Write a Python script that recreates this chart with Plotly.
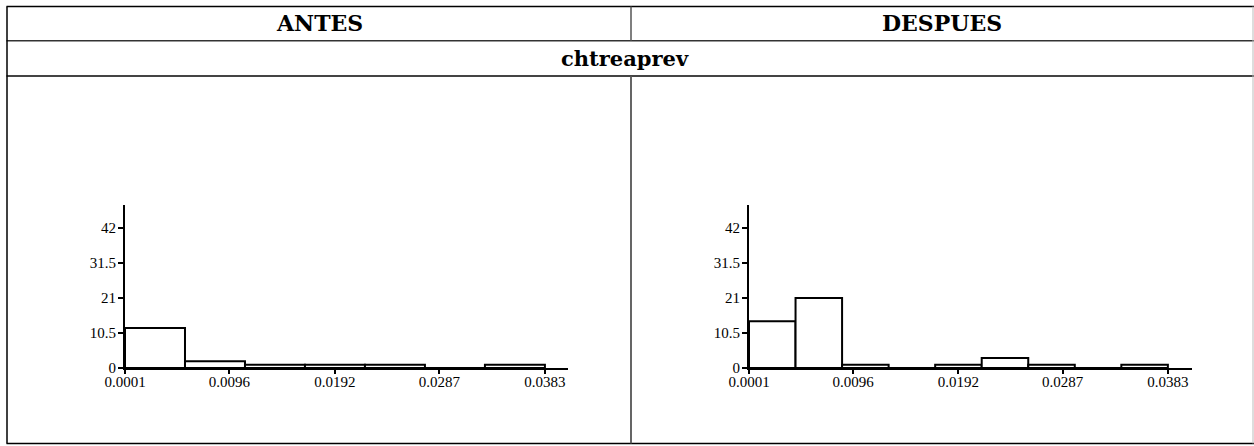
import numpy as np
import plotly.graph_objects as go

# ---- data ----
col_titles = ["ANTES", "DESPUES"]
var_name = "chtreaprev"
x_min, x_max = 0.0001, 0.0383
x_tickvals = [0.0001, 0.0096, 0.0192, 0.0287, 0.0383]
x_ticktext = ["0.0001", "0.0096", "0.0192", "0.0287", "0.0383"]
y_tickvals = [0, 10.5, 21, 31.5, 42]
y_ticktext = ["0", "10.5", "21", "31.5", "42"]
counts_antes = [12, 2, 1, 1, 1, 0, 1]
counts_despues = [14, 21, 1, 0, 1, 3, 1, 0, 1]

W, H = 1254, 446
def px(x): return x / W
def py(y): return 1 - y / H

def hist_trace(counts, xa, ya):
    n = len(counts)
    edges = np.linspace(x_min, x_max, n + 1)
    centers = (edges[:-1] + edges[1:]) / 2
    width = edges[1] - edges[0]
    return go.Bar(x=centers, y=counts, width=[width] * n,
                  marker=dict(color="white", line=dict(color="black", width=2)),
                  xaxis=xa, yaxis=ya, showlegend=False, hoverinfo="skip")

fig = go.Figure()
fig.add_trace(hist_trace(counts_antes, "x", "y"))
fig.add_trace(hist_trace(counts_despues, "x2", "y2"))

tickfont = dict(family="Liberation Serif", size=15, color="black")
xcommon = dict(tickvals=x_tickvals, ticktext=x_ticktext, showgrid=False, zeroline=False,
               showline=True, linecolor="black", linewidth=2, ticks="outside",
               ticklen=4, tickwidth=1.5, tickcolor="black", tickfont=tickfont,
               ticklabelstandoff=-5, automargin=False)
ycommon = dict(tickvals=y_tickvals, ticktext=y_ticktext, range=[0, 48.9], showgrid=False,
               zeroline=False, showline=True, linecolor="black", linewidth=2,
               ticks="outside", ticklen=5, tickwidth=1.5, tickcolor="black",
               tickfont=tickfont, domain=[py(368), py(205)], ticklabelstandoff=-1,
               automargin=False)

fig.update_layout(
    width=W, height=H, margin=dict(l=0, r=0, t=0, b=0, pad=0, autoexpand=False),
    paper_bgcolor="white", plot_bgcolor="rgba(0,0,0,0)",
    barmode="overlay", showlegend=False,
    xaxis=dict(domain=[px(125), px(568)], range=[0.0001, 0.0404], anchor="y", **xcommon),
    yaxis=dict(anchor="x", **ycommon),
    xaxis2=dict(domain=[px(749), px(1192)], range=[0.0001, 0.0405], anchor="y2", **xcommon),
    yaxis2=dict(anchor="x2", **ycommon),
)

# table lines
shapes = []
def hline(y, x0, x1, color="black", w=1.5):
    shapes.append(dict(type="line", xref="paper", yref="paper", x0=px(x0), x1=px(x1),
                       y0=py(y), y1=py(y), line=dict(color=color, width=w)))
def vline(x, y0, y1, color="black", w=1.5):
    shapes.append(dict(type="line", xref="paper", yref="paper", x0=px(x), x1=px(x),
                       y0=py(y0), y1=py(y1), line=dict(color=color, width=w)))

hline(6.5, 6.5, 1254, "black", 1.5)
hline(40.8, 6.5, 1254, "#333333", 1.5)
hline(76, 6.5, 1254, "#444444", 1.8)
hline(443.5, 6.5, 1254, "black", 1.5)
vline(7, 6.5, 443.5, "black", 1.5)
vline(1253, 6.5, 443.5, "#bbbbbb", 1)
vline(631, 6.5, 40.8, "#555555", 1.5)
vline(631, 76, 443.5, "#555555", 1.8)
fig.update_layout(shapes=shapes)

hfont = dict(family="DejaVu Serif", size=22, color="black", weight="bold")
fig.add_annotation(x=px(319), y=py(23.5), xref="paper", yref="paper", text=col_titles[0],
                   showarrow=False, font=hfont, xanchor="center", yanchor="middle")
fig.add_annotation(x=px(942), y=py(23.5), xref="paper", yref="paper", text=col_titles[1],
                   showarrow=False, font=hfont, xanchor="center", yanchor="middle")
fig.add_annotation(x=px(625), y=py(58.5), xref="paper", yref="paper", text=var_name,
                   showarrow=False, font=dict(family="DejaVu Serif", size=21, color="black",
                                              weight="bold"),
                   xanchor="center", yanchor="middle")

fig.write_html("out.html", config={"displayModeBar": False},
               post_script="document.body.style.margin='0';document.body.style.overflow='hidden';")
